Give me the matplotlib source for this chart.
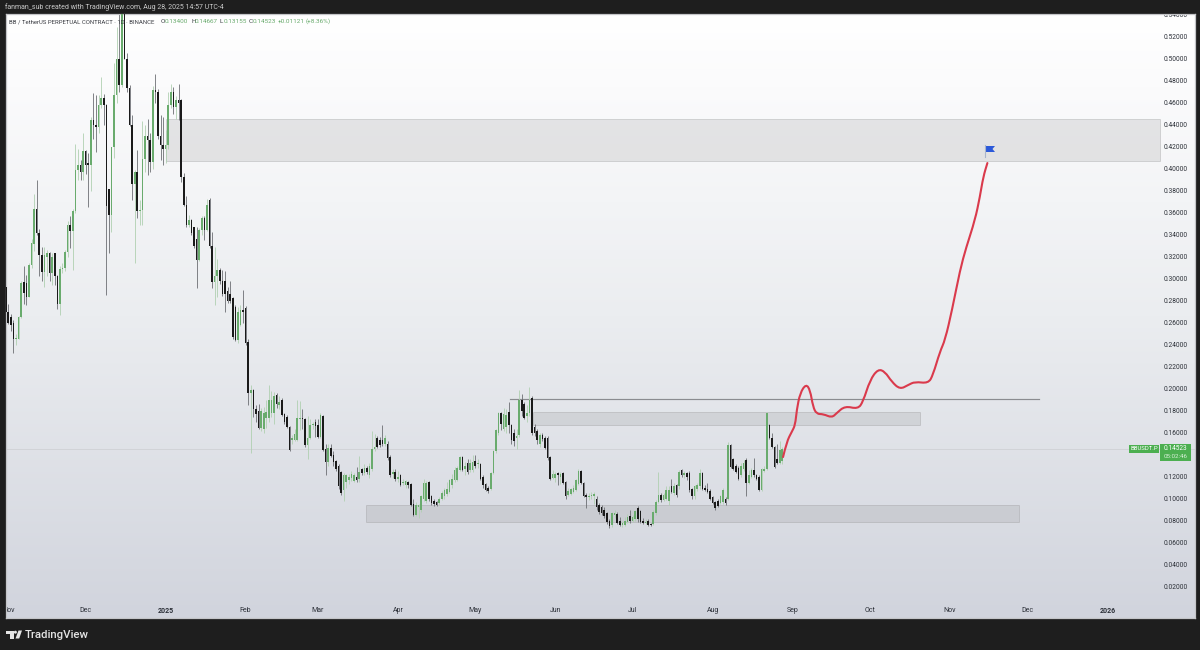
import matplotlib
matplotlib.use("Agg")
import matplotlib.pyplot as plt
import numpy as np
import pandas as pd
from matplotlib.colors import LinearSegmentedColormap
from matplotlib.patches import Circle, PathPatch, Polygon, Rectangle
from matplotlib.path import Path

plt.rcParams['font.family'] = ['Roboto', 'DejaVu Sans']

# daily candles, first one is Oct 31 2024
start_date = pd.Timestamp("2024-10-31")

opens = [
    .292, .27, .265, .26, .245, .245, .265, .297, .296, .283, .312, .331, .363, .341, .321, .306, .32, .323, .305, .323,
    .302, .277, .309, .31, .324, .349, .343, .361, .399, .403, .397, .416, .405, .403, .444, .44, .438, .458, .464, .458,
    .381, .358, .42, .467, .5, .476, .545, .5, .473, .44, .386, .397, .361, .362, .409, .43, .426, .406, .471, .47,
    .43, .421, .418, .421, .458, .47, .456, .462, .462, .392, .367, .349, .353, .347, .336, .317, .344, .355, .344, .371,
    .33, .297, .302, .308, .298, .298, .289, .286, .282, .274, .244, .258, .271, .273, .242, .196, .199, .181, .18, .164,
    .163, .173, .173, .178, .178, .194, .185, .19, .177, .174, .165, .153, .153, .153, .172, .173, .172, .149, .155, .167,
    .17, .167, .156, .175, .145, .133, .146, .14, .134, .13, .124, .108, .115, .117, .119, .116, .12, .118, .127, .123,
    .128, .121, .127, .145, .155, .153, .153, .15, .15, .138, .122, .124, .118, .121, .114, .112, .115, .113, .095, .085,
    .092, .09, .1, .098, .115, .102, .098, .097, .096, .1, .102, .104, .106, .112, .117, .117, .126, .138, .127, .132,
    .126, .126, .134, .131, .131, .12, .113, .11, .109, .123, .143, .16, .178, .163, .165, .179, .167, .16, .155, .158,
    .19, .186, .175, .178, .191, .165, .161, .15, .158, .155, .155, .138, .119, .119, .123, .12, .123, .115, .103, .104,
    .106, .108, .113, .125, .114, .103, .101, .102, .102, .1, .094, .092, .09, .087, .08, .076, .085, .086, .08, .076,
    .076, .079, .084, .08, .081, .091, .089, .08, .078, .08, .077, .077, .087, .097, .103, .099, .1, .098, .111, .105,
    .112, .111, .126, .121, .123, .123, .109, .102, .109, .111, .123, .11, .109, .107, .101, .097, .098, .096, .097, .1,
    .1, .149, .136, .13, .128, .121, .127, .135, .114, .12, .126, .121, .12, .108, .125, .127, .167, .155, .147, .136,
    .132, .134,
]
highs = [
    .292, .277, .268, .262, .25, .266, .298, .311, .303, .314, .336, .377, .39, .345, .329, .329, .326, .324, .323, .323,
    .303, .311, .314, .326, .352, .357, .363, .422, .418, .408, .432, .417, .414, .447, .469, .467, .467, .483, .468, .459,
    .381, .42, .496, .529, .544, .58, .57, .505, .476, .449, .399, .417, .371, .443, .44, .445, .432, .475, .486, .472,
    .449, .447, .435, .47, .477, .474, .466, .477, .463, .396, .375, .358, .354, .347, .347, .346, .357, .357, .372, .373,
    .342, .329, .318, .31, .308, .307, .292, .298, .283, .276, .274, .276, .29, .275, .245, .203, .2, .185, .186, .182,
    .183, .19, .203, .198, .197, .196, .193, .191, .178, .176, .166, .158, .163, .19, .189, .181, .173, .175, .172, .17,
    .172, .172, .178, .176, .15, .15, .15, .143, .135, .131, .125, .123, .122, .122, .125, .123, .129, .139, .128, .131,
    .13, .132, .161, .159, .157, .156, .167, .158, .152, .14, .127, .127, .125, .122, .118, .117, .116, .114, .1, .097,
    .095, .103, .118, .116, .116, .103, .1, .098, .101, .107, .11, .115, .118, .122, .129, .13, .139, .139, .133, .136,
    .136, .14, .14, .136, .132, .121, .114, .111, .124, .144, .163, .179, .179, .182, .181, .188, .168, .163, .163, .199,
    .195, .188, .185, .201, .193, .168, .163, .16, .16, .157, .157, .139, .126, .124, .124, .124, .124, .116, .11, .11,
    .112, .118, .127, .126, .115, .105, .105, .106, .106, .102, .096, .094, .092, .088, .081, .088, .09, .088, .083, .08,
    .083, .086, .09, .085, .09, .093, .09, .082, .081, .081, .078, .09, .099, .124, .105, .105, .111, .111, .118, .114,
    .113, .126, .127, .125, .124, .125, .11, .112, .114, .127, .124, .112, .114, .109, .102, .098, .1, .103, .11, .101,
    .151, .15, .137, .131, .13, .132, .135, .137, .126, .128, .137, .122, .121, .128, .13, .179, .168, .16, .148, .15,
    .152, .14667,
]
lows = [
    .265, .259, .252, .232, .24, .245, .264, .277, .276, .283, .31, .325, .34, .302, .298, .292, .302, .298, .294, .294,
    .272, .267, .305, .307, .32, .328, .308, .36, .39, .39, .39, .395, .365, .38, .427, .415, .432, .455, .44, .285,
    .323, .342, .41, .46, .47, .474, .5, .47, .439, .371, .314, .355, .349, .349, .397, .394, .397, .4, .46, .427,
    .408, .403, .405, .418, .455, .45, .445, .444, .388, .366, .347, .347, .34, .328, .291, .316, .34, .335, .343, .328,
    .291, .276, .283, .295, .284, .27, .278, .278, .245, .243, .241, .257, .26, .24, .185, .141, .174, .17, .163, .161,
    .16, .164, .17, .174, .168, .182, .181, .175, .168, .164, .143, .15, .152, .152, .162, .163, .147, .136, .154, .163,
    .156, .155, .155, .143, .121, .13, .138, .13, .125, .109, .103, .098, .11, .113, .116, .115, .115, .115, .121, .121,
    .122, .119, .125, .143, .146, .147, .148, .148, .135, .12, .119, .116, .115, .111, .112, .11, .11, .093, .084, .084,
    .082, .088, .098, .096, .098, .094, .093, .093, .094, .099, .1, .102, .105, .11, .115, .116, .125, .125, .121, .122,
    .124, .124, .128, .128, .117, .11, .107, .105, .108, .122, .141, .158, .162, .161, .16, .16, .15, .148, .145, .156,
    .175, .172, .17, .175, .158, .157, .15, .147, .152, .145, .135, .117, .118, .115, .112, .113, .113, .1, .102, .103,
    .105, .107, .112, .113, .101, .091, .099, .1, .095, .09, .086, .085, .082, .077, .073, .074, .082, .077, .075, .074,
    .075, .078, .078, .079, .08, .079, .078, .077, .077, .075, .075, .076, .085, .096, .097, .098, .099, .094, .105, .103,
    .101, .109, .12, .119, .117, .106, .1, .1, .107, .109, .108, .107, .105, .099, .095, .09, .092, .095, .095, .094,
    .099, .128, .126, .123, .117, .12, .125, .102, .113, .119, .12, .117, .107, .107, .124, .126, .154, .146, .128, .131,
    .131, .13155,
]
closes = [
    .27, .26, .258, .245, .246, .265, .296, .287, .283, .312, .332, .363, .341, .321, .306, .321, .323, .305, .32, .302,
    .277, .309, .31, .324, .349, .343, .361, .399, .403, .397, .416, .403, .403, .444, .44, .438, .458, .464, .458, .366,
    .358, .42, .467, .5, .476, .545, .5, .473, .44, .386, .397, .361, .362, .409, .43, .426, .406, .471, .47, .43,
    .421, .418, .421, .458, .47, .456, .462, .46, .392, .367, .349, .353, .341, .33, .317, .344, .355, .344, .367, .33,
    .297, .302, .308, .298, .286, .286, .28, .28, .247, .244, .27, .271, .27, .241, .196, .199, .181, .177, .164, .18,
    .178, .179, .19, .19, .193, .186, .188, .176, .17, .165, .144, .155, .159, .173, .173, .172, .149, .155, .167, .168,
    .166, .156, .176, .144, .133, .146, .139, .133, .127, .111, .105, .121, .121, .12, .122, .121, .117, .124, .123, .128,
    .124, .13, .145, .147, .147, .149, .15, .155, .137, .121, .124, .118, .12, .112, .115, .116, .112, .094, .085, .094,
    .094, .102, .114, .114, .1, .096, .095, .094, .1, .105, .108, .109, .117, .118, .126, .128, .138, .126, .13, .124,
    .132, .133, .13, .132, .118, .112, .108, .107, .123, .143, .162, .178, .168, .177, .176, .167, .153, .152, .157, .19,
    .18, .173, .178, .19, .16, .16, .153, .158, .154, .146, .137, .118, .122, .122, .121, .122, .114, .102, .107, .109,
    .11, .117, .125, .114, .102, .101, .102, .103, .104, .092, .088, .087, .084, .079, .075, .087, .087, .078, .076, .078,
    .08, .083, .08, .083, .089, .081, .079, .078, .079, .076, .076, .088, .097, .103, .099, .103, .108, .108, .106, .111,
    .103, .124, .121, .123, .12, .108, .102, .111, .112, .123, .109, .108, .106, .1, .096, .091, .093, .102, .108, .096,
    .149, .129, .127, .124, .118, .13, .132, .114, .121, .126, .121, .118, .108, .127, .127, .178, .155, .147, .129, .132,
    .144, .14523,
]

# red forecast path drawn on the chart
forecast_days = [301.3, 302.7, 304.7, 306, 306.6, 307.9, 310.2, 311.8, 312.9, 314.3, 316.9, 320.2, 322.1, 325.3, 330.3, 332.3,
                 335, 338.1, 340.8, 343.4, 346.6, 349.8, 352.4, 357.6, 359.4, 362.1, 364.1, 366.8, 369.9, 372.2, 375.7,
                 377.6, 378.9, 380.5]
forecast_prices = [.1377, .1516, .1607, .1668, .1805, .1959, .2041, .1986, .1835, .1768, .1768, .1735, .1777, .1841, .1814, .188,
                   .2077, .2177, .2153, .2062, .1993, .2032, .2062, .2047, .2123, .2335, .2441, .2714, .3077, .3277, .3532,
                   .3744, .3925, .405]

# zones: first day, last day, low, high
zone_days = [(62, 447.4), (204.4, 354.4), (139.7, 392.6)]
zone_prices = [(.4068, .445), (.1668, .179), (.0784, .0941)]
level_days = (195.5, 400.5)
level_price = .1902
last_price = .14523

price_ticks = [.02, .04, .06, .08, .10, .12, .14, .16, .18, .20, .22, .24, .26, .28, .30, .32, .34, .36, .38, .40, .42, .44,
               .46, .48, .50, .52, .54]
month_dates = ["2024-11-01", "2024-12-01", "2025-01-01", "2025-02-01", "2025-03-01", "2025-04-01", "2025-05-01", "2025-06-01",
               "2025-07-01", "2025-08-01", "2025-09-01", "2025-10-01", "2025-11-01", "2025-12-01", "2026-01-01"]
month_labels = ["Nov", "Dec", "2025", "Feb", "Mar", "Apr", "May", "Jun", "Jul", "Aug", "Sep", "Oct", "Nov", "Dec", "2026"]

DARK = '#1e1e1e'
UP = '#69ab6d'
UP_WICK = '#b0d0b1'
DOWN = '#1a1a1a'
DOWN_WICK = '#6c6e73'
LABEL_GREEN = '#4caf50'

fig = plt.figure(figsize=(12, 6.5), dpi=100, facecolor=DARK)

# chart area runs x 5.5-1194.5, y 14-618 in pixels
ax = fig.add_axes([5.5 / 1200, 1 - 618 / 650, 1189 / 1200, 604 / 650])
px_per_day = 2.58
xlim = (-0.08, 1189 / px_per_day - 0.08)
ylim = (-0.00864, 0.5405)

# background gradient
grad = LinearSegmentedColormap.from_list('bg', [(0, '#ffffff'), (0.12, '#fbfbfc'), (0.5, '#ebedf0'), (1, '#d1d4dd')])
ax.imshow(np.linspace(0, 1, 256).reshape(-1, 1), cmap=grad, aspect='auto', extent=(0, 1, 0, 1),
          transform=ax.transAxes, zorder=0)
ax.set_xlim(*xlim)
ax.set_ylim(*ylim)

ax.axhline(last_price, color='#cfd1d5', lw=0.6, zorder=1)

for (d0, d1), (p0, p1) in zip(zone_days, zone_prices):
    ax.add_patch(Rectangle((d0, p0), d1 - d0, p1 - p0, facecolor=(0.5, 0.5, 0.5, 0.17),
                           edgecolor=(0.55, 0.55, 0.55, 0.3), lw=0.7, zorder=1.5))
ax.plot(level_days, (level_price, level_price), color='#8a8c90', lw=0.85, zorder=1.6)

# candles
days = np.arange(len(closes))
o, h, l, c = map(np.array, (opens, highs, lows, closes))
up = c >= o
ax.vlines(days[up], l[up], h[up], color=UP_WICK, lw=0.6, zorder=2)
ax.vlines(days[~up], l[~up], h[~up], color=DOWN_WICK, lw=0.6, zorder=2)
ax.bar(days[up], (c - o)[up], 0.62, bottom=o[up], color=UP, lw=0, zorder=3)
ax.bar(days[~up], (o - c)[~up], 0.62, bottom=c[~up], color=DOWN, lw=0, zorder=3)

# smooth red line through the forecast values
verts = [(forecast_days[0], forecast_prices[0])]
codes = [Path.MOVETO]
n = len(forecast_days)
for k in range(1, n - 1):
    mid = ((forecast_days[k] + forecast_days[k + 1]) / 2, (forecast_prices[k] + forecast_prices[k + 1]) / 2)
    verts += [(forecast_days[k], forecast_prices[k]), mid]
    codes += [Path.CURVE3, Path.CURVE3]
verts.append((forecast_days[-1], forecast_prices[-1]))
codes.append(Path.LINETO)
ax.add_patch(PathPatch(Path(verts, codes), fill=False, edgecolor='#da3a4c', lw=1.5, capstyle='round', zorder=5))

# axes labels sit inside the frame
ax.yaxis.tick_right()
ax.set_yticks(price_ticks)
ax.set_yticklabels([f"{p:.5f}" for p in price_ticks])
ax.set_xticks([(pd.Timestamp(d) - start_date).days for d in month_dates])
ax.set_xticklabels(month_labels)
ax.tick_params(axis='y', length=0, pad=-22.4, labelsize=4.8, labelcolor='#2c3038')
ax.tick_params(axis='x', length=0, pad=-8.2, labelsize=5.0, labelcolor='#2c3038')
for lab in ax.get_yticklabels() + ax.get_xticklabels():
    lab.set_clip_on(True)
    lab.set_clip_box(ax.bbox)
    lab.set_zorder(6)
for lab in ax.get_xticklabels():
    if lab.get_text().isdigit():
        lab.set_fontweight('bold')
for s in ax.spines.values():
    s.set_color('#c4c5c8')
    s.set_linewidth(0.9)

# overlay in pixel coordinates for texts, badges and logo
ov = fig.add_axes([0, 0, 1, 1], facecolor='none', zorder=10)
ov.set_xlim(0, 1200)
ov.set_ylim(650, 0)
ov.axis('off')

ov.text(5, 7.3, "fanman_sub created with TradingView.com, Aug 28, 2025 14:57 UTC-4", color='#c9c9c9', fontsize=5.0,
        va='center', ha='left')
ov.text(9, 21.5, "BB / TetherUS PERPETUAL CONTRACT · 1D · BINANCE", color='#3a3c42', fontsize=4.35, va='center', ha='left')
header = [(161, "O", '#3a3c42'), (165, "0.13400", UP), (191, "H", '#3a3c42'), (195, "0.14667", UP), (220, "L", '#3a3c42'),
          (223.5, "0.13155", UP), (249, "C", '#3a3c42'), (253, "0.14523", UP), (278, "+0.01121", UP), (306, "(+8.36%)", UP)]
for x, s, col in header:
    ov.text(x, 21.5, s, color=col, fontsize=4.6, va='center', ha='left')

# last price badges
ov.add_patch(Rectangle((1129, 444.5), 30, 8.5, color=LABEL_GREEN, lw=0))
ov.add_patch(Rectangle((1160, 444), 31, 17, color=LABEL_GREEN, lw=0))
ov.text(1144, 448.8, "BBUSDT.P", color='white', fontsize=4.3, ha='center', va='center')
ov.text(1175.5, 449, f"{last_price:.5f}", color='white', fontsize=4.7, ha='center', va='center')
ov.text(1175.5, 456.5, "05:02:46", color='#d8efd8', fontsize=4.5, ha='center', va='center')

# blue flag at the end of the path
ov.plot([985, 985], [145, 157], color='#a9b5cc', lw=0.8)
ov.add_patch(Polygon([(986, 146), (995, 146), (992.5, 149), (995, 152), (986, 152)], color='#2b59d9', lw=0))

# TradingView logo
ov.add_patch(Polygon([(6, 630.5), (13.5, 630.5), (13.5, 638.5), (9.7, 638.5), (9.7, 634), (6, 634)], color='#e4e4e4', lw=0))
ov.add_patch(Circle((15.4, 632.2), 1.5, color='#e4e4e4', lw=0))
ov.add_patch(Polygon([(15.5, 638.5), (18.5, 630.5), (22, 630.5), (19.2, 638.5)], color='#e4e4e4', lw=0))
ov.text(25, 634.7, "TradingView", color='#e4e4e4', fontsize=8.2, fontweight='medium', va='center', ha='left')

fig.savefig("out.png", dpi=100, facecolor=fig.get_facecolor())
